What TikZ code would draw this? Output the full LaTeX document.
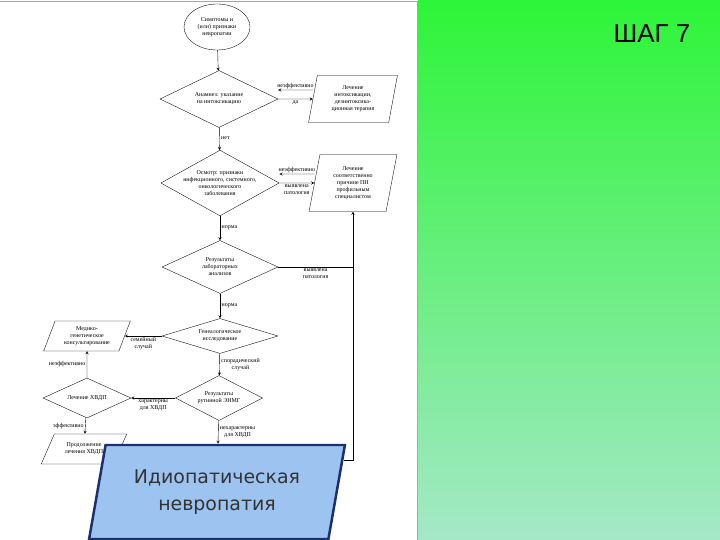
\documentclass[tikz,border=0pt]{standalone}
\usepackage{fontspec}
\setmainfont{Liberation Serif}
\newfontfamily\boxfont{DejaVu Sans}
\newfontfamily\headfont{Liberation Sans}
\usetikzlibrary{shapes.geometric,calc}
\definecolor{stepgreen}{RGB}{45,245,55}
\definecolor{palegreen}{RGB}{165,232,200}
\definecolor{boxblue}{RGB}{157,195,240}
\definecolor{boxedge}{RGB}{28,48,110}

\begin{document}
\begin{tikzpicture}[
x=1bp,y=-1bp,
>=stealth,
line/.style={draw,->,line width=0.4pt},
link/.style={draw,line width=0.4pt},
oval/.style={ellipse,draw,line width=0.35pt,inner sep=0pt,align=center,font=\fontsize{6}{7}\selectfont},
cond/.style={diamond,draw,line width=0.35pt,inner sep=0pt,align=center,font=\fontsize{6}{7}\selectfont},
iobox/.style={trapezium,trapezium left angle=79,trapezium right angle=101,trapezium stretches=true,draw,line width=0.35pt,inner sep=1pt,align=center,font=\fontsize{6}{7}\selectfont},
lbl/.style={align=center,inner sep=1.5pt,font=\fontsize{6}{7}\selectfont},
idiobox/.style={trapezium,trapezium left angle=76,trapezium right angle=104,trapezium stretches=true,draw=boxedge,line width=2.5pt,fill=boxblue,align=center,text=black!80,font=\boxfont\fontsize{19}{27}\selectfont}
]
\useasboundingbox (0,0) rectangle (720,540);

%background
\shade[top color=stepgreen,bottom color=palegreen] (418,0) rectangle (720,540);
\draw[black!35,line width=0.5pt] (0,1.5) -- (417,1.5) -- (417,540);
\node[font=\headfont\fontsize{26}{30}\selectfont] (title) at (652,34) {ШАГ 7};

\node[oval,minimum width=66bp,minimum height=46bp] (symp) at (217,27) {Симптомы и\\(или) признаки\\невропатии};

\node[cond,minimum width=118bp,minimum height=57bp,aspect=2.07] (anam) at (219,99) {Анамнез: указание\\на интоксикацию};
	\node[iobox,minimum width=89bp,minimum height=47bp] (tox) at (353,99) {Лечение\\интоксикации,\\дезинтоксика-\\ционная терапия};

\node[cond,minimum width=116bp,minimum height=65bp,aspect=1.8] (osm) at (220,183) {Осмотр: признаки\\инфекционного, системного,\\онкологического\\заболевания};
	\node[iobox,minimum width=88bp,minimum height=57bp] (spec) at (353,183) {Лечение\\соответственно\\причине ПН\\профильным\\специалистом};

\node[cond,minimum width=116bp,minimum height=53bp,aspect=2.2] (lab) at (220,267) {Результаты\\лабораторных\\анализов};

\node[cond,minimum width=116bp,minimum height=35bp,aspect=3.3] (gen) at (220,336) {Генеалогическое\\исследование};
	\node[iobox,trapezium left angle=68,trapezium right angle=112,minimum width=87bp,minimum height=30bp] (mgk) at (87,336) {Медико-\\генетическое\\консультирование};

\node[cond,minimum width=87bp,minimum height=45bp,aspect=1.93] (enmg) at (219,398) {Результаты\\рутинной ЭНМГ};
	\node[cond,minimum width=88bp,minimum height=40bp,aspect=2.2] (cidp) at (87,398) {Лечение ХВДП};
	\node[iobox,trapezium left angle=58,trapezium right angle=122,minimum width=86bp,minimum height=30bp] (cont) at (84,449) {Продолжение\\лечения ХВДП};

\node[idiobox,minimum width=256bp,minimum height=94bp] (idio) at (217,492) {Идиопатическая\\невропатия};

\path[line] (symp) -- (anam);
\path[line] ([yshift=9bp]tox.west) -- node[lbl,above]{неэффективно} ([yshift=9bp]anam.east);
\path[line] (anam.east) -- node[lbl,below]{да} (tox.west);
\path[line] (anam) -- node[lbl,right,pos=0.45]{нет} (osm);

\path[line] ([yshift=9bp]spec.west) -- node[lbl,above]{неэффективно} ([yshift=9bp]osm.east);
\path[line] (osm.east) -- node[lbl,below]{выявлена\\патология} (spec.west);
\path[line] (osm) -- node[lbl,right]{норма} (lab);

\path[link] (lab.east) -- node[lbl,below]{выявлена\\патология} (lab.east -| spec.south);
\path[line] (lab) -- node[lbl,right]{норма} (gen);

\path[line] (gen.west) -- node[lbl,below]{семейный\\случай} (gen.west -| mgk.east);
\path[line] (gen) -- node[lbl,right]{спорадический\\случай} (enmg);

\path[line] (enmg) -- node[lbl,below]{характерны\\для ХВДП} (cidp);
\path[line] (cidp) -- node[lbl,left]{неэффективно} (mgk);
\path[line] (cidp) -- node[lbl,left]{эффективно} (cont);
\path[line] (enmg) -- node[lbl,right]{нехарактерны\\для ХВДП} (idio);

\coordinate (idioR) at ($(idio.top right corner)!0.17!(idio.bottom right corner)$);
\path[line] (idioR) -| (spec.south);

\end{tikzpicture}
\end{document}
